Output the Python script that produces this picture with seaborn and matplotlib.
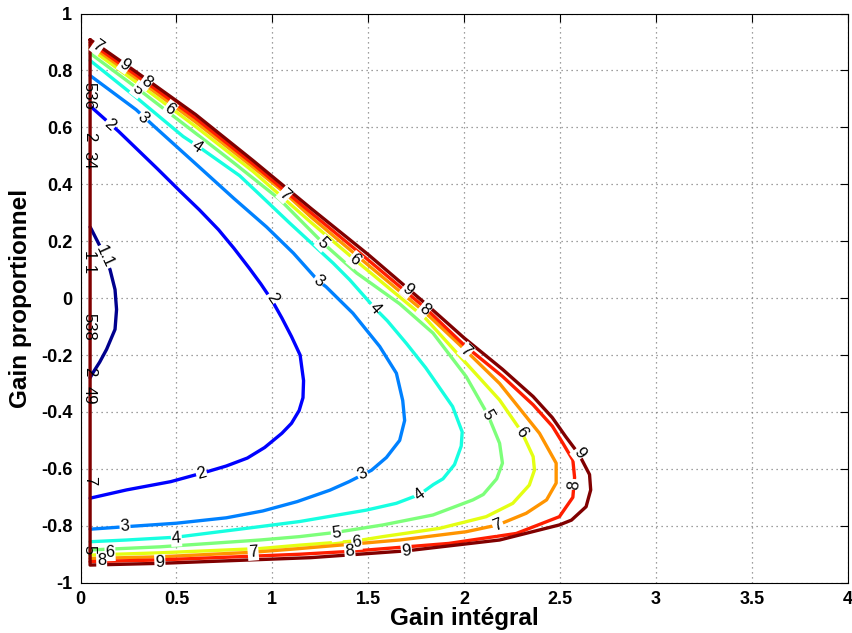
import numpy as np
import pandas as pd
import matplotlib
matplotlib.use("Agg")
import matplotlib.pyplot as plt
import seaborn as sns

# ---------------- data ----------------
levels = [1.1, 2, 3, 4, 5, 6, 7, 8, 9]

c11_x = [0.05, 0.058, 0.098, 0.13, 0.154, 0.18, 0.188, 0.18, 0.136, 0.10, 0.067, 0.05]
c11_y = [0.25, 0.24, 0.187, 0.14, 0.10, 0.03, -0.04, -0.11, -0.18, -0.225, -0.26, -0.28]

c2_x = [0.05, 0.2, 0.4, 0.52, 0.62, 0.72, 0.80, 0.88, 0.94, 1.0, 1.05, 1.10, 1.145, 1.163,
        1.16, 1.14, 1.10, 1.05, 0.96, 0.87, 0.76, 0.66, 0.47, 0.24, 0.05]
c2_y = [0.675, 0.585, 0.455, 0.375, 0.31, 0.24, 0.175, 0.105, 0.05, -0.01, -0.07, -0.135,
        -0.2, -0.29, -0.35, -0.395, -0.44, -0.475, -0.525, -0.562, -0.59, -0.61, -0.645,
        -0.674, -0.703]

c3_x = [0.05, 0.29, 0.38, 0.62, 0.80, 0.97, 1.11, 1.24, 1.28, 1.42, 1.56, 1.647, 1.68, 1.69,
        1.664, 1.595, 1.517, 1.40, 1.30, 1.13, 0.95, 0.76, 0.5, 0.24, 0.05]
c3_y = [0.782, 0.662, 0.606, 0.46, 0.35, 0.25, 0.158, 0.06, 0.04, -0.053, -0.17, -0.264,
        -0.36, -0.43, -0.5, -0.56, -0.605, -0.645, -0.675, -0.715, -0.748, -0.772, -0.791,
        -0.803, -0.812]

c4_x = [0.05, 0.3, 0.535, 0.62, 0.83, 0.94, 1.09, 1.317, 1.404, 1.534, 1.60, 1.70, 1.80, 1.94,
        1.99, 1.985, 1.95, 1.89, 1.84, 1.768, 1.647, 1.49, 1.143, 0.935, 0.5, 0.24, 0.05]
c4_y = [0.835, 0.70, 0.568, 0.53, 0.43, 0.36, 0.264, 0.123, 0.064, -0.035, -0.08, -0.16,
        -0.245, -0.381, -0.47, -0.52, -0.585, -0.635, -0.655, -0.69, -0.721, -0.745, -0.785,
        -0.803, -0.84, -0.85, -0.856]

c5_x = [0.05, 0.3, 0.622, 0.80, 1.04, 1.265, 1.44, 1.664, 1.838, 2.011, 2.124, 2.185, 2.2,
        2.17, 2.10, 2.046, 1.838, 1.577, 1.334, 1.143, 0.935, 0.414, 0.05]
c5_y = [0.86, 0.735, 0.568, 0.475, 0.346, 0.193, 0.088, -0.02, -0.123, -0.276, -0.41, -0.51,
        -0.58, -0.635, -0.69, -0.709, -0.762, -0.797, -0.823, -0.838, -0.85, -0.874, -0.885]

c6_x = [0.05, 0.3, 0.6, 0.9, 1.2, 1.43, 1.8, 2.0, 2.185, 2.30, 2.36, 2.367, 2.34, 2.254, 2.115,
        1.872, 1.577, 1.44, 1.143, 0.935, 0.414, 0.05]
c6_y = [0.877, 0.754, 0.603, 0.445, 0.267, 0.135, -0.072, -0.221, -0.358, -0.47, -0.557,
        -0.604, -0.657, -0.721, -0.768, -0.809, -0.838, -0.853, -0.868, -0.88, -0.895, -0.903]

c7_x = [0.05, 0.3, 0.6, 0.9, 1.065, 1.2, 1.5, 1.8, 2.01, 2.185, 2.254, 2.393, 2.48, 2.48, 2.43,
        2.324, 2.176, 2.01, 1.664, 1.143, 0.9, 0.414, 0.05]
c7_y = [0.889, 0.768, 0.619, 0.46, 0.37, 0.286, 0.116, -0.052, -0.185, -0.3, -0.358, -0.475,
        -0.58, -0.65, -0.709, -0.756, -0.797, -0.821, -0.85, -0.88, -0.893, -0.909, -0.915]

c8_x = [0.05, 0.3, 0.6, 0.9, 1.2, 1.5, 1.8, 2.0, 2.2, 2.36, 2.46, 2.515, 2.567, 2.576, 2.567,
        2.497, 2.272, 1.92, 1.404, 1.143, 0.414, 0.05]
c8_y = [0.898, 0.779, 0.632, 0.471, 0.301, 0.134, -0.036, -0.165, -0.275, -0.375, -0.45,
        -0.51, -0.569, -0.63, -0.70, -0.768, -0.827, -0.862, -0.89, -0.9, -0.92, -0.926]

c9_x = [0.05, 0.3, 0.6, 0.9, 1.2, 1.5, 1.8, 2.0, 2.2, 2.36, 2.46, 2.53, 2.6, 2.654, 2.66,
        2.636, 2.56, 2.497, 2.185, 1.7, 1.2, 0.414, 0.05, 0.05]
c9_y = [0.908, 0.79, 0.645, 0.483, 0.316, 0.153, -0.02, -0.14, -0.25, -0.346, -0.42, -0.487,
        -0.55, -0.62, -0.674, -0.733, -0.78, -0.797, -0.85, -0.888, -0.912, -0.932, -0.938,
        0.908]

contour_x = [c11_x, c2_x, c3_x, c4_x, c5_x, c6_x, c7_x, c8_x, c9_x]
contour_y = [c11_y, c2_y, c3_y, c4_y, c5_y, c6_y, c7_y, c8_y, c9_y]

# inline contour labels: level, x, y
label_lvl = [1.1, 2, 2, 2, 3, 3, 3, 3, 4, 4, 4, 4, 5, 5, 5, 5, 6, 6, 6, 6, 6,
             7, 7, 7, 7, 7, 8, 8, 8, 8, 8, 9, 9, 9, 9, 9]
label_x = [0.125, 0.154, 1.0, 0.63, 0.327, 1.24, 1.47, 0.232, 0.605, 1.534, 1.768, 0.5,
           0.30, 1.265, 2.124, 1.334, 0.466, 1.43, 2.30, 1.44, 0.154,
           0.09, 1.065, 2.01, 2.176, 0.9, 0.345, 1.794, 2.576, 1.404, 0.11,
           0.232, 1.707, 2.6, 1.70, 0.414]
label_y = [0.145, 0.61, 0.0, -0.615, 0.633, 0.058, -0.618, -0.803, 0.533, -0.035, -0.69, -0.844,
           0.733, 0.193, -0.41, -0.827, 0.665, 0.135, -0.47, -0.856, -0.895,
           0.885, 0.364, -0.185, -0.797, -0.893, 0.76, -0.04, -0.655, -0.89, -0.922,
           0.82, 0.03, -0.545, -0.888, -0.93]

# labels sitting on the left border of the region
edge_text = ["536", "2", "34", "1 1", "538", "2", "49", "7", "5"]
edge_y = [0.71, 0.567, 0.486, 0.13, -0.10, -0.26, -0.34, -0.64, -0.885]

xticks = [0, 0.5, 1, 1.5, 2, 2.5, 3, 3.5, 4]
xtick_labels = ["0", "0.5", "1", "1.5", "2", "2.5", "3", "3.5", "4"]
yticks = [-1, -0.8, -0.6, -0.4, -0.2, 0, 0.2, 0.4, 0.6, 0.8, 1]
ytick_labels = ["-1", "-0.8", "-0.6", "-0.4", "-0.2", "0", "0.2", "0.4", "0.6", "0.8", "1"]

# ---------------- plotting ----------------
sns.set_style("white")
plt.rcParams['font.family'] = ['Liberation Sans', 'DejaVu Sans']
plt.rcParams['axes.unicode_minus'] = False
plt.rcParams['text.color'] = 'black'
plt.rcParams['axes.labelcolor'] = 'black'

W, H = 853, 633
fig = plt.figure(figsize=(W / 100, H / 100), dpi=100)
L, R, T, B = 80.5, 847.7, 13.5, 582.7
ax = fig.add_axes([L / W, 1 - B / H, (R - L) / W, (B - T) / H])
ax.set_xlim(0, 4)
ax.set_ylim(-1, 1)

frames = []
for lvl, xs, ys in zip(levels, contour_x, contour_y):
    frames.append(pd.DataFrame({'x': xs, 'y': ys, 'level': str(lvl)}))
df = pd.concat(frames, ignore_index=True)

cmap = plt.get_cmap('jet')
palette = {str(l): cmap((l - 1) / 8) for l in levels}
sns.lineplot(data=df, x='x', y='y', hue='level', hue_order=[str(l) for l in levels],
             palette=palette, units='level', estimator=None, sort=False,
             lw=2.4, legend=False, ax=ax)

ax.set_xlim(0, 4)
ax.set_ylim(-1, 1)


def angle_at(xs, ys, px, py):
    pts = ax.transData.transform(np.column_stack([xs, ys]))
    p = np.array(ax.transData.transform((px, py)))
    best, ang = 1e18, 0.0
    for k in range(len(pts) - 1):
        a, b = pts[k], pts[k + 1]
        d = b - a
        n = np.dot(d, d)
        if n == 0:
            continue
        t = np.clip(np.dot(p - a, d) / n, 0, 1)
        dist = np.linalg.norm(a + t * d - p)
        if dist < best:
            best = dist
            ang = np.degrees(np.arctan2(d[1], d[0]))
    while ang > 90:
        ang -= 180
    while ang <= -90:
        ang += 180
    return ang


for lvl, lx, ly in zip(label_lvl, label_x, label_y):
    i = levels.index(lvl)
    ang = angle_at(contour_x[i], contour_y[i], lx, ly)
    txt = str(lvl)
    ax.text(lx, ly, txt, rotation=ang, rotation_mode='anchor', ha='center', va='center',
            fontsize=12, color='black', zorder=5,
            bbox=dict(boxstyle='square,pad=0.05', fc='white', ec='none'))

for t, yy in zip(edge_text, edge_y):
    ax.text(0.045, yy, t, rotation=-90, rotation_mode='anchor', ha='center', va='center',
            fontsize=12, color='black', zorder=6)

ax.set_xticks(xticks)
ax.set_xticklabels(xtick_labels)
ax.set_yticks(yticks)
ax.set_yticklabels(ytick_labels)
for lab in ax.get_xticklabels() + ax.get_yticklabels():
    lab.set_fontweight('bold')
    lab.set_fontsize(13)
    lab.set_color('black')
ax.tick_params(direction='in', length=6, width=0.8, top=True, right=True,
               colors='black', pad=6)
ax.grid(True, linestyle=(0, (1, 3)), color='0.5', linewidth=0.9)
ax.set_axisbelow(True)
for s in ax.spines.values():
    s.set_visible(True)
    s.set_color('black')
    s.set_linewidth(0.8)

ax.set_xlabel("Gain intégral", fontsize=17.5, fontweight='bold', color='black')
ax.set_ylabel("Gain proportionnel", fontsize=17.5, fontweight='bold', color='black')
ax.xaxis.set_label_coords(0.5, -0.043)
ax.yaxis.set_label_coords(-0.063, 0.5)

fig.savefig("out.png", dpi=100)
